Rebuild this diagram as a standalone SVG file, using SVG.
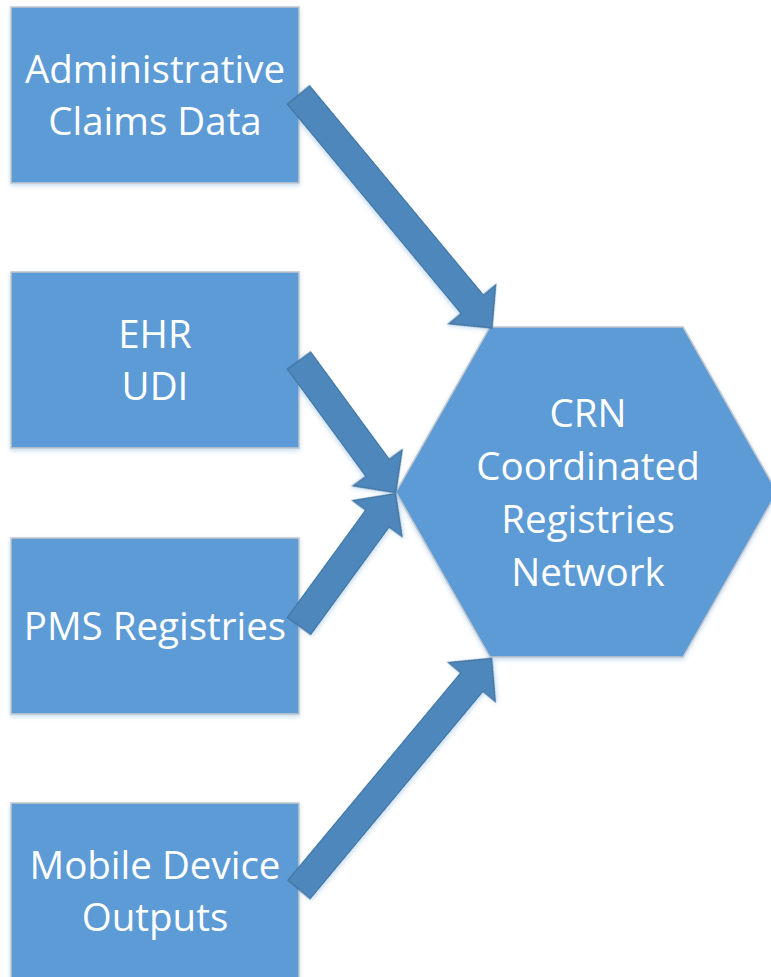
<svg xmlns="http://www.w3.org/2000/svg" width="771" height="977" viewBox="0 0 771 977">
<style>
.box{fill:#5B9BD5;stroke:#C4C7CB;stroke-width:1.5;filter:url(#sh)}
.arr{fill:#4D87BC;stroke:#41719C;stroke-width:1.2;filter:url(#sh)}
.t{font-family:"Open Sans","Liberation Sans",sans-serif;font-size:38.5px;fill:#FFFFFF;text-anchor:middle}
</style>
<defs>
<filter id="sh" x="-10%" y="-10%" width="120%" height="120%">
<feDropShadow dx="0" dy="2" stdDeviation="2" flood-color="#5B9BD5" flood-opacity="0.35"/>
</filter>
</defs>
<rect width="771" height="977" fill="#FFFFFF"/>
<g id="admin">
<rect class="box" x="11" y="7" width="288" height="176"/>
<text class="t" x="155" y="83">Administrative</text>
<text class="t" x="155" y="135">Claims Data</text>
</g>
<g id="ehr">
<rect class="box" x="11" y="272" width="288" height="176"/>
<text class="t" x="155" y="348">EHR</text>
<text class="t" x="155" y="400">UDI</text>
</g>
<g id="pms">
<rect class="box" x="11" y="538" width="288" height="176"/>
<text class="t" x="155" y="640">PMS Registries</text>
</g>
<g id="mobile">
<rect class="box" x="11" y="803" width="288" height="190"/>
<text class="t" x="155" y="879">Mobile Device</text>
<text class="t" x="155" y="931">Outputs</text>
</g>
<g id="crn">
<polygon class="box" points="490,327 683,327 777,492 683,657 490,657 396,492"/>
<text class="t" x="588" y="427">CRN</text>
<text class="t" x="588" y="480">Coordinated</text>
<text class="t" x="588" y="533">Registries</text>
<text class="t" x="588" y="586">Network</text>
</g>
<g id="connectors">
<path class="arr" transform="translate(298.5,95) rotate(50.3)" d="M0,-14.5 L272,-14.5 L272,-30.5 L303,0 L272,30.5 L272,14.5 L0,14.5 Z"/>
<path class="arr" transform="translate(299,360.5) rotate(53.8)" d="M0,-14.5 L133,-14.5 L133,-30.5 L164,0 L133,30.5 L133,14.5 L0,14.5 Z"/>
<path class="arr" transform="translate(299,626) rotate(-53.9)" d="M0,-14.5 L133,-14.5 L133,-30.5 L164,0 L133,30.5 L133,14.5 L0,14.5 Z"/>
<path class="arr" transform="translate(299,889.5) rotate(-50.2)" d="M0,-14.5 L270,-14.5 L270,-30.5 L301,0 L270,30.5 L270,14.5 L0,14.5 Z"/>
</g>
</svg>
